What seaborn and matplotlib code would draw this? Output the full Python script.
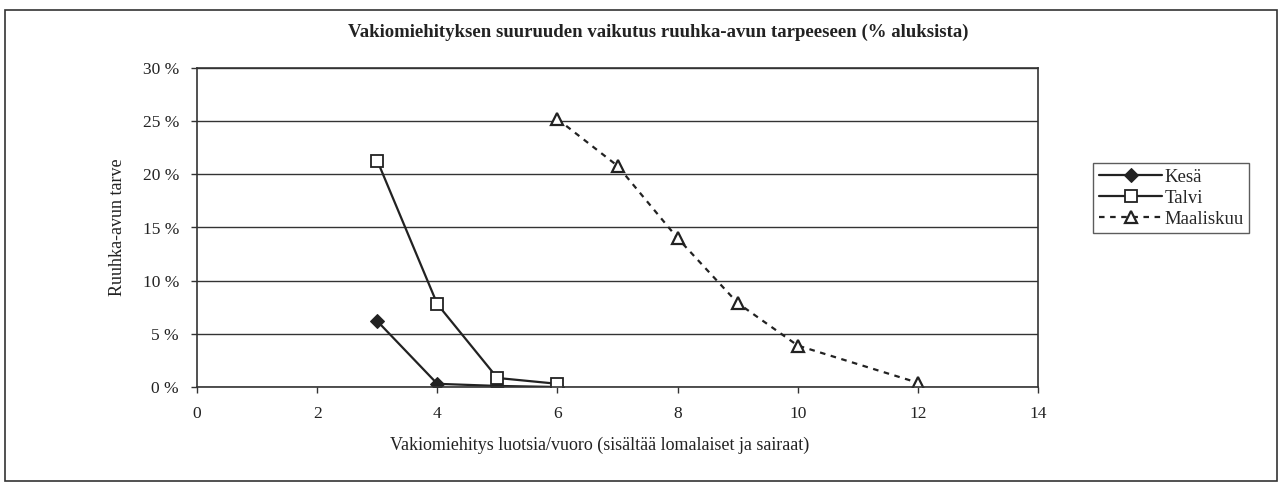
import matplotlib
matplotlib.use('Agg')
import matplotlib.pyplot as plt
import pandas as pd
import seaborn as sns
from matplotlib.patches import Rectangle
from matplotlib.ticker import FuncFormatter

# Data
kesa_x = [3, 4, 5, 6]
kesa_y = [6.2, 0.3, 0.1, 0.0]
talvi_x = [3, 4, 5, 6]
talvi_y = [21.3, 7.8, 0.85, 0.3]
maalis_x = [6, 7, 8, 9, 10, 12]
maalis_y = [25.2, 20.8, 14.0, 7.9, 3.9, 0.4]

sns.set_style('white')
plt.rcParams['font.family'] = ['Liberation Serif', 'DejaVu Serif']

fig = plt.figure(figsize=(12.82, 4.86), dpi=100)
ax = fig.add_axes([197 / 1282, 1 - 387 / 486, (1038 - 197) / 1282, (387 - 68) / 486])

ink = '#222222'

# Kesä
sns.lineplot(x=kesa_x, y=kesa_y, ax=ax, color=ink, linewidth=1.6, marker='D',
             markersize=7.5, markerfacecolor=ink, markeredgecolor=ink, label='Kesä')
# Talvi
sns.lineplot(x=talvi_x, y=talvi_y, ax=ax, color=ink, linewidth=1.6, marker='s',
             markersize=9, markerfacecolor='white', markeredgecolor=ink,
             markeredgewidth=1.3, label='Talvi')
# Maaliskuu
sns.lineplot(x=maalis_x, y=maalis_y, ax=ax, color=ink, linewidth=1.6, marker='^',
             markersize=9, markerfacecolor='white', markeredgecolor=ink,
             markeredgewidth=1.6, label='Maaliskuu', dashes=False)
ax.lines[-1].set_linestyle((0, (2.5, 2.5)))

ax.set_xlim(0, 14)
ax.set_ylim(0, 30)
ax.set_xticks(range(0, 15, 2))
ax.set_yticks(range(0, 31, 5))
ax.yaxis.set_major_formatter(FuncFormatter(lambda v, p: f'{int(v)} %'))
ax.grid(axis='y', color='#333333', linewidth=1.0)
ax.set_axisbelow(True)
for s in ax.spines.values():
    s.set_color('#333333')
    s.set_linewidth(1.2)
ax.tick_params(axis='both', direction='out', length=4, width=1, color='#333333',
               labelsize=12.5, labelcolor='#222222')
ax.tick_params(axis='x', pad=10)
ax.tick_params(axis='y', pad=9)
ax.yaxis.set_ticks_position('left')
ax.xaxis.set_ticks_position('bottom')

ax.set_xlabel('Vakiomiehitys luotsia/vuoro (sisältää lomalaiset ja sairaat)',
              fontsize=13, color='#222222')
ax.xaxis.set_label_coords((600 - 197) / (1038 - 197), (387 - 445) / (387 - 68))
ax.xaxis.label.set_va('center')
ax.set_ylabel('Ruuhka-avun tarve', fontsize=13, color='#222222')
ax.yaxis.set_label_coords((118 - 197) / (1038 - 197), 0.5)
ax.yaxis.label.set_va('center')

fig.text(658 / 1282, 1 - 32 / 486,
         'Vakiomiehityksen suuruuden vaikutus ruuhka-avun tarpeeseen (% aluksista)',
         ha='center', va='center', fontsize=13.5, fontweight='bold', color='#222222')

leg = ax.legend(loc='upper left', bbox_to_anchor=(1093 / 1282, 1 - 163 / 486),
                bbox_transform=fig.transFigure, frameon=True, fancybox=False,
                fontsize=13.5, handlelength=3.4, handletextpad=0.1,
                borderpad=0.3, labelspacing=0.2, borderaxespad=0)
leg.get_frame().set_edgecolor('#333333')
leg.get_frame().set_linewidth(1.0)

# outer document frame
fig.patches.append(Rectangle((5 / 1282, 0.01), 1272 / 1282, 1 - 10 / 486 - 0.01,
                             transform=fig.transFigure, fill=False,
                             edgecolor='#333333', linewidth=1.2))

fig.savefig('out.png', dpi=100)
